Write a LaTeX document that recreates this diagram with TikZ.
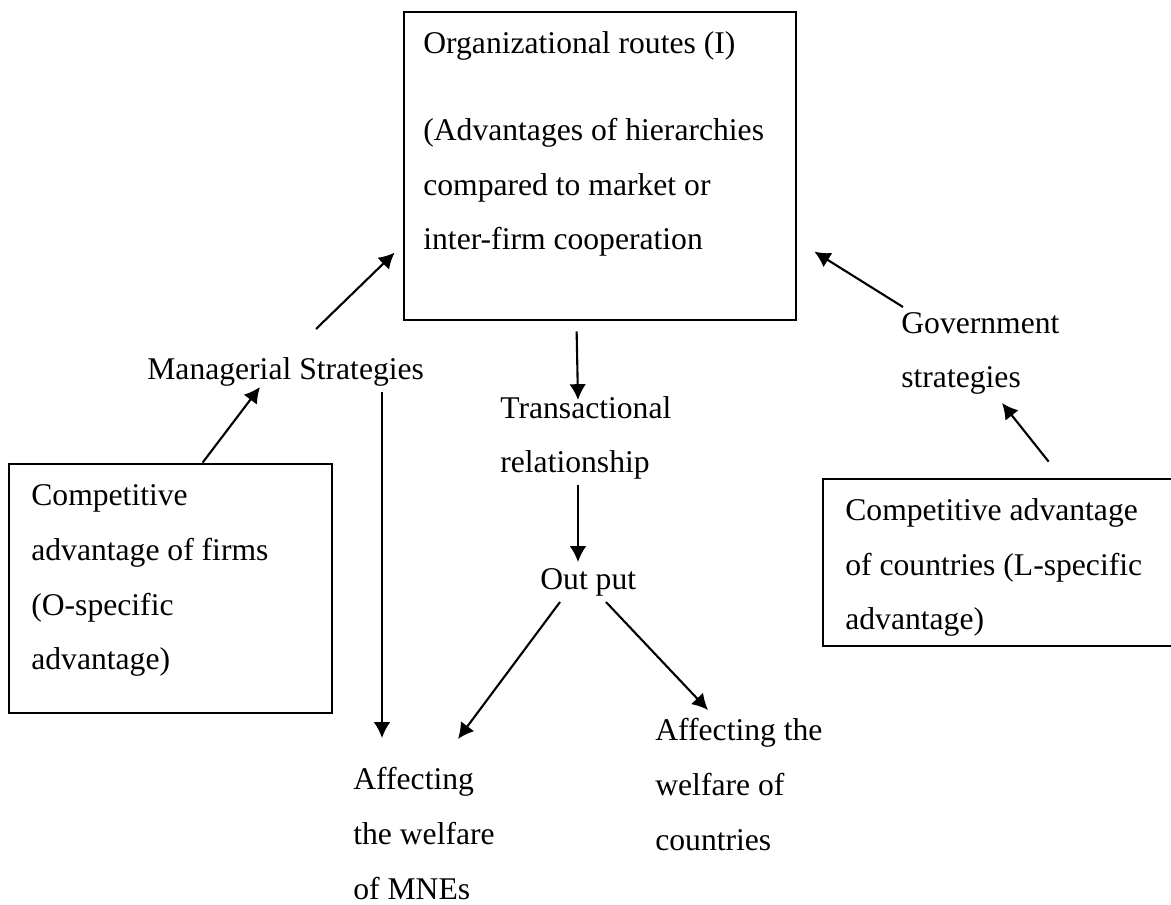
\documentclass[tikz,border=0pt]{standalone}
\usepackage{fontspec}
\setmainfont{Liberation Serif}
\usetikzlibrary{calc,arrows.meta}
\tikzset{
    box/.style={draw, line width=1.6pt, inner sep=0pt},
    txt/.style={anchor=base west, align=left, inner sep=0pt, font=\fontsize{18}{31.3}\selectfont},
    arr/.style={-{Latex[length=9pt,width=9.5pt]}, line width=1.2pt},
}

\begin{document}
\begin{tikzpicture}[x=0.02cm,y=-0.02cm]
        \useasboundingbox (0,0) rectangle (1171,905);
        \fill[white] (0,0) rectangle (1171,905);
        % boxes (text nodes sit on the baseline of their last line)
        \node[box, minimum width=7.84cm, minimum height=6.16cm] (routes) at (600,166) {};
        \node[box, minimum width=6.46cm, minimum height=4.98cm] (firms) at (170.5,588.5) {};
        \node[box, minimum width=7.14cm, minimum height=3.34cm] (countries) at (1001.5,562.5) {};
        \node[txt] (routestxt) at (423,250) {Organizational routes (I)\\[0.64cm](Advantages of hierarchies\\compared to market or\\inter-firm cooperation};
        \node[txt] (firmstxt) at (31,670) {Competitive\\advantage of firms\\(O-specific\\advantage)};
        \node[txt] (countriestxt) at (845,630) {Competitive advantage\\of countries (L-specific\\advantage)};
        % free labels
        \node[txt] (mgr) at (147,380) {Managerial Strategies};
        \node[txt] (gov) at (901,388) {Government\\strategies};
        \node[txt] (trans) at (500,473) {Transactional\\relationship};
        \node[txt] (output) at (540,590) {Out put};
        \node[txt] (mnes) at (353,899) {Affecting\\the welfare\\of MNEs};
        \node[txt] (ctry) at (655,850) {Affecting the\\welfare of\\countries};
        % arrows
        \draw[arr] ($(firms.north west)+(195,0)$) -- ($(mgr.base west)+(113,7)$);
        \draw[arr] ($(mgr.base west)+(169,-51)$) -- ($(routes.north west)+(-8,242)$);
        \draw[arr] ($(gov.base west)+(2,-81)$) -- ($(routes.north east)+(17,241)$);
        \draw[arr] ($(countries.north west)+(227,-16)$) -- ($(gov.base west)+(101,15)$);
        \draw[arr] ($(routes.south west)+(174,10)$) -- ($(trans.base west)+(78,-73)$);
        \draw[arr] ($(trans.base west)+(78,12)$) -- ($(output.base west)+(38,-28)$);
        \draw[arr] ($(output.base west)+(20,12)$) -- ($(mnes.base west)+(105,-160)$);
        \draw[arr] ($(output.base west)+(66,12)$) -- ($(ctry.base west)+(53,-140)$);
        \draw[arr] ($(mgr.base west)+(235,12)$) -- ($(mnes.base west)+(29,-161)$);
    \end{tikzpicture}
\end{document}
